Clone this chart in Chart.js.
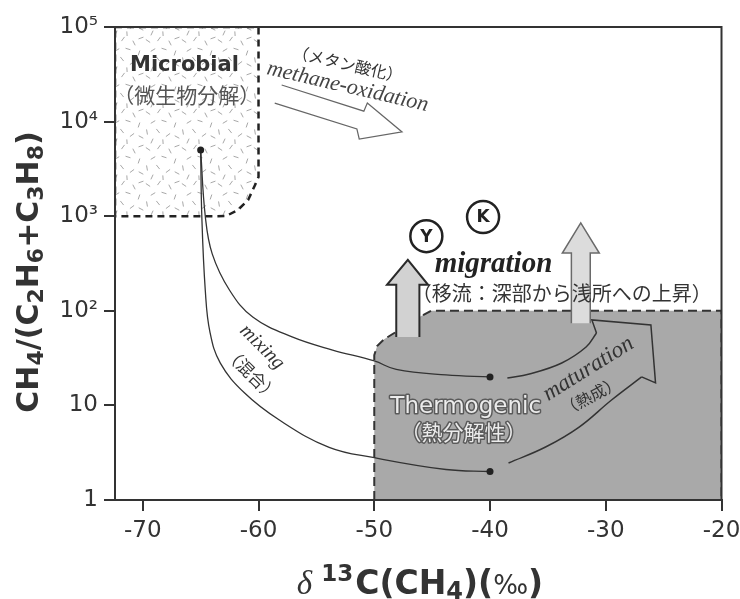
<!DOCTYPE html>
<html>
<head>
<meta charset="utf-8">
<title>CH4/(C2H6+C3H8) vs δ13C(CH4)</title>
<script src="https://cdn.jsdelivr.net/npm/chart.js@4.4.1/dist/chart.umd.min.js"></script>
<style>
  html, body { margin: 0; padding: 0; background: #fff; }
  #wrap { width: 740px; height: 599px; }
</style>
</head>
<body>
<div id="wrap"><canvas id="chart" width="740" height="599"></canvas></div>
<script>
// axis ticks
const xTicks = [-70, -60, -50, -40, -30, -20];
const yTicks = [1, 10, 100, 1e3, 1e4, 1e5];
const yTickLabels = ['1', '10', '10²', '10³', '10⁴', '10⁵'];

// end members: microbial, thermogenic (two)
const endMembers = [[-65, 5000], [-40, 20], [-40, 2]];

// mixing curves
const mixingUpper = [[-65, 5000], [-64.6, 1000], [-64.0, 400], [-62.5, 165], [-60.5, 86], [-57.1, 53],
  [-53.6, 38.5], [-50, 29.5], [-48.1, 24], [-43.8, 21], [-40, 20]];
const mixingLower = [[-65, 5000], [-64.9, 1000], [-64.6, 165], [-64.2, 60], [-63.3, 28], [-61.2, 13.5],
  [-58.2, 7.0], [-53.9, 3.6], [-50, 2.8], [-43.8, 2.1], [-40, 2]];

// genetic fields
const microbialZone = [[-72.4, 1e5], [-60, 1e5], [-60, 2600], [-60.3, 2140], [-60.9, 1480], [-61.8, 1160],
  [-62.8, 1005], [-63.6, 1000], [-72.4, 1000], [-72.4, 1e5]];
const thermogenicZone = [[-50, 1], [-50, 34], [-49.75, 42.5], [-49.15, 50], [-48.1, 60], [-47.0, 74],
  [-45.95, 88], [-45.1, 100], [-20, 100], [-20, 1], [-50, 1]];

// process arrows
const oxidationArrow = [[-58.6, 15700], [-51.5, 8350], [-51.3, 6550], [-47.6, 7770], [-50.6, 15700],
  [-50.9, 12900], [-58.0, 24400]];
const migrationLeft = [[-48.1, 53], [-48.1, 188], [-48.9, 188], [-47.1, 345], [-45.35, 188], [-46.1, 188], [-46.1, 53]];
const migrationRight = [[-32.97, 74], [-32.97, 408], [-33.75, 408], [-32.16, 850], [-30.56, 408], [-31.34, 408], [-31.34, 74]];
const maturationUpper = [[-38.5, 19.5], [-36.6, 21.5], [-33.8, 28.1], [-31.7, 41.4], [-30.8, 58.3]];
const maturationHead = [[-30.8, 58.3], [-31.2, 80], [-26.1, 70.8], [-25.7, 17.3], [-26.9, 20.0]];
const maturationLower = [[-26.9, 20.0], [-29.5, 11.4], [-32.3, 5.9], [-35.2, 3.63], [-38.4, 2.46]];

// gas field sites
const sites = [[-45.5, 615], [-40.6, 980]];
const siteLabels = ['Y', 'K'];

const pts = a => a.map(([x, y]) => ({ x: x, y: y }));

// speckle texture for the microbial field
function makeSpeckle() {
    const c = document.createElement('canvas');
    c.width = 36; c.height = 36;
    const g = c.getContext('2d');
    g.fillStyle = '#fff';
    g.fillRect(0, 0, 36, 36);
    g.strokeStyle = '#a8a8a8';
    g.lineWidth = 1;
    const marks = [[4, 5, 0.6], [15, 3, 2.2], [26, 7, 1.1], [33, 2, 2.8], [9, 14, 2.6], [20, 13, 0.3],
        [31, 17, 1.9], [3, 24, 1.4], [14, 23, 0.9], [24, 27, 2.5], [33, 29, 0.5], [8, 33, 2.0], [19, 34, 1.5]];
    marks.forEach(([x, y, a]) => {
        const dx = Math.cos(a) * 2.6, dy = Math.sin(a) * 2.6;
        g.beginPath(); g.moveTo(x - dx, y - dy); g.lineTo(x + dx, y + dy); g.stroke();
    });
    return g.createPattern(c, 'repeat');
}

const notes = [
    { text: 'Microbial', x: -66.4, y: 38700, font: 'bold 21px "DejaVu Sans"', color: '#333' },
    { text: '（微生物分解）', x: -66.2, y: 19100, font: '21px "Noto Sans CJK JP"', color: '#555' },
    { text: '（メタン酸化）', x: -52.3, y: 40600, angle: 13, font: '16px "Noto Sans CJK JP"', color: '#333' },
    { text: 'methane-oxidation', x: -52.3, y: 23200, angle: 13, font: 'italic 22px "Liberation Serif"', color: '#444' },
    { text: 'migration', x: -39.7, y: 312, font: 'bold italic 29px "Liberation Serif"', color: '#222' },
    { text: '（移流：深部から浅所への上昇）', x: -33.8, y: 154, font: '20px "Noto Sans CJK JP"', color: '#333' },
    { text: 'mixing', x: -59.7, y: 41.4, angle: 45, font: 'italic 20px "Liberation Serif"', color: '#333' },
    { text: '（混合）', x: -60.6, y: 21.5, angle: 45, font: '17px "Noto Sans CJK JP"', color: '#333' },
    { text: 'Thermogenic', x: -42.1, y: 9.6, font: '23px "DejaVu Sans"', color: '#ececec', outline: '#5a5a5a' },
    { text: '（熱分解性）', x: -42.3, y: 5.24, font: '21px "Noto Sans CJK JP"', color: '#ececec', outline: '#5a5a5a' },
    { text: 'maturation', x: -31.5, y: 24.3, angle: -32, font: 'italic 23px "Liberation Serif"', color: '#333' },
    { text: '（熱成）', x: -31.3, y: 12.6, angle: -28, font: '16px "Noto Sans CJK JP"', color: '#333' }
];

const B = '"DejaVu Sans"';
const yTitle = [
    { t: 'CH', font: 'bold 30px ' + B }, { t: '4', font: 'bold 22px ' + B, dy: 5 },
    { t: '/(C', font: 'bold 30px ' + B }, { t: '2', font: 'bold 22px ' + B, dy: 5 },
    { t: 'H', font: 'bold 30px ' + B }, { t: '6', font: 'bold 22px ' + B, dy: 5 },
    { t: '+C', font: 'bold 30px ' + B }, { t: '3', font: 'bold 22px ' + B, dy: 5 },
    { t: 'H', font: 'bold 30px ' + B }, { t: '8', font: 'bold 22px ' + B, dy: 5 },
    { t: ')', font: 'bold 30px ' + B }
];
const xTitle = [
    { t: 'δ', font: 'italic 33px "Liberation Serif"', gap: 9 },
    { t: '13', font: 'bold 23px ' + B, dy: -13, gap: 2 },
    { t: 'C(CH', font: 'bold 33px ' + B }, { t: '4', font: 'bold 24px ' + B, dy: 5 },
    { t: ')(', font: 'bold 33px ' + B }, { t: '‰', font: '26px ' + B },
    { t: ')', font: 'bold 33px ' + B }
];

function drawRuns(ctx, runs, cx, baseY) {
    let total = 0;
    runs.forEach(r => { ctx.font = r.font; r.w = ctx.measureText(r.t).width; total += r.w + (r.gap || 0); });
    let x = cx - total / 2;
    ctx.textAlign = 'left';
    ctx.textBaseline = 'alphabetic';
    runs.forEach(r => {
        ctx.font = r.font;
        ctx.fillText(r.t, x, baseY + (r.dy || 0));
        x += r.w + (r.gap || 0);
    });
}

const decorPlugin = {
    id: 'decor',
    beforeDraw(chart) {
        const ctx = chart.ctx;
        ctx.save();
        ctx.fillStyle = '#fff';
        ctx.fillRect(0, 0, chart.width, chart.height);
        ctx.restore();
    },
    afterDatasetsDraw(chart) {
        const ctx = chart.ctx;
        const xs = chart.scales.x, ys = chart.scales.y;
        const a = chart.chartArea;
        ctx.save();
        // frame
        ctx.strokeStyle = '#333';
        ctx.lineWidth = 2;
        ctx.strokeRect(a.left, a.top, a.right - a.left, a.bottom - a.top);

        // annotations
        notes.forEach(n => {
            ctx.save();
            ctx.translate(xs.getPixelForValue(n.x), ys.getPixelForValue(n.y));
            ctx.rotate((n.angle || 0) * Math.PI / 180);
            ctx.font = n.font;
            ctx.textAlign = 'center';
            ctx.textBaseline = 'middle';
            if (n.outline) {
                ctx.lineWidth = 3;
                ctx.lineJoin = 'round';
                ctx.strokeStyle = n.outline;
                ctx.strokeText(n.text, 0, 0);
            }
            ctx.fillStyle = n.color;
            ctx.fillText(n.text, 0, 0);
            ctx.restore();
        });

        // site letters inside circles
        ctx.font = 'bold 17px ' + B;
        ctx.fillStyle = '#222';
        ctx.textAlign = 'center';
        ctx.textBaseline = 'middle';
        sites.forEach(([x, y], i) => {
            ctx.fillText(siteLabels[i], xs.getPixelForValue(x), ys.getPixelForValue(y) + 1);
        });

        // axis titles
        ctx.fillStyle = '#333';
        drawRuns(ctx, xTitle, 420, 594);
        ctx.save();
        ctx.translate(27, 272);
        ctx.rotate(-Math.PI / 2);
        drawRuns(ctx, yTitle, 0, 11);
        ctx.restore();
        ctx.restore();
    }
};

const ctx = document.getElementById('chart').getContext('2d');
const lineBase = { pointRadius: 0, fill: false, tension: 0 };

new Chart(ctx, {
    type: 'line',
    data: {
        datasets: [
            { ...lineBase, label: 'Thermogenic', data: pts(thermogenicZone), fill: 'shape', backgroundColor: '#a9a9a9',
              borderColor: '#333', borderWidth: 2, borderDash: [9, 5], order: 10 },
            { ...lineBase, label: 'Microbial', data: pts(microbialZone), fill: 'shape', backgroundColor: makeSpeckle(),
              borderColor: '#222', borderWidth: 2.5, borderDash: [7, 5], order: 9 },
            { ...lineBase, label: 'mixing upper', data: pts(mixingUpper), borderColor: '#333', borderWidth: 1.3,
              tension: 0.4, order: 6 },
            { ...lineBase, label: 'mixing lower', data: pts(mixingLower), borderColor: '#333', borderWidth: 1.3,
              tension: 0.4, order: 6 },
            { ...lineBase, label: 'methane-oxidation', data: pts(oxidationArrow), fill: 'shape', backgroundColor: '#fff',
              borderColor: '#666', borderWidth: 1.2, order: 5 },
            { ...lineBase, label: 'maturation upper', data: pts(maturationUpper), borderColor: '#333', borderWidth: 1.5,
              tension: 0.4, order: 5 },
            { ...lineBase, label: 'maturation head', data: pts(maturationHead), borderColor: '#333', borderWidth: 1.5, order: 5 },
            { ...lineBase, label: 'maturation lower', data: pts(maturationLower), borderColor: '#333', borderWidth: 1.5,
              tension: 0.4, order: 5 },
            { ...lineBase, label: 'migration Y', data: pts(migrationLeft), fill: 'shape', backgroundColor: '#d2d2d2',
              borderColor: '#2a2a2a', borderWidth: 2, order: 4 },
            { ...lineBase, label: 'migration', data: pts(migrationRight), fill: 'shape', backgroundColor: '#dcdcdc',
              borderColor: '#6a6a6a', borderWidth: 1.5, order: 4 },
            { label: 'end members', data: pts(endMembers), showLine: false, pointRadius: 3.5,
              pointBackgroundColor: '#222', pointBorderWidth: 0, order: 2 },
            { label: 'sites', data: pts(sites), showLine: false, pointRadius: 16, pointStyle: 'circle',
              pointBackgroundColor: '#fff', pointBorderColor: '#222', pointBorderWidth: 2.5, order: 1 }
        ]
    },
    options: {
        responsive: false,
        animation: false,
        events: [],
        layout: { padding: { top: 27, right: 17, left: 0, bottom: 0 } },
        plugins: {
            legend: { display: false },
            tooltip: { enabled: false },
            title: { display: false }
        },
        scales: {
            x: {
                type: 'linear',
                min: -72.4,
                max: -20,
                afterBuildTicks: s => { s.ticks = xTicks.map(v => ({ value: v })); },
                afterFit: s => { s.height = 99; s.paddingLeft = 0; s.paddingRight = 0; },
                grid: { drawOnChartArea: false, tickLength: 11, color: '#333', lineWidth: 2 },
                border: { color: '#333', width: 2 },
                ticks: {
                    font: { family: 'DejaVu Sans', size: 23 },
                    color: '#333',
                    padding: 6,
                    maxRotation: 0,
                    autoSkip: false,
                    callback: v => String(v)
                }
            },
            y: {
                type: 'logarithmic',
                min: 1,
                max: 1e5,
                afterBuildTicks: s => { s.ticks = yTicks.map(v => ({ value: v })); },
                afterFit: s => { s.width = 115; s.paddingTop = 0; s.paddingBottom = 0; },
                grid: { drawOnChartArea: false, tickLength: 11, color: '#333', lineWidth: 2 },
                border: { color: '#333', width: 2 },
                ticks: {
                    font: { family: 'DejaVu Sans', size: 23 },
                    color: '#333',
                    padding: 6,
                    autoSkip: false,
                    callback: v => yTickLabels[yTicks.indexOf(v)]
                }
            }
        }
    },
    plugins: [decorPlugin]
});
</script>
</body>
</html>
